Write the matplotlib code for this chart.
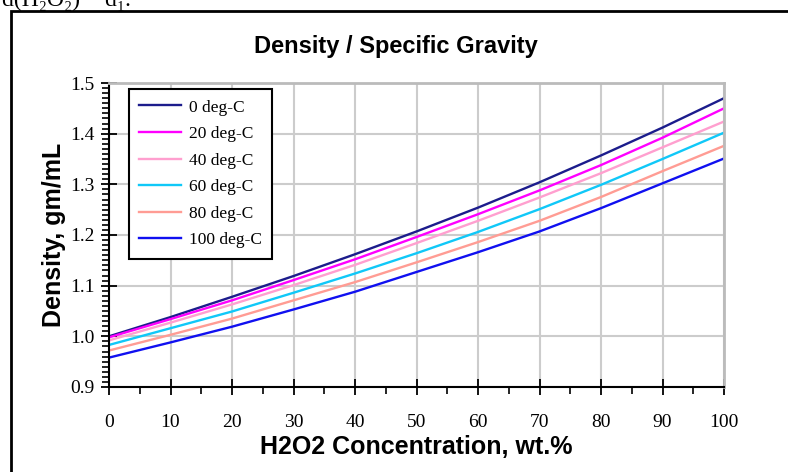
import matplotlib.pyplot as plt
import matplotlib.patches as patches
from matplotlib.ticker import MultipleLocator

# concentration, wt.%
conc = [0, 10, 20, 30, 40, 50, 60, 70, 80, 90, 100]

# density (gm/mL), one list per temperature
d_0 = [1.000, 1.038, 1.078, 1.119, 1.162, 1.207, 1.254, 1.304, 1.357, 1.412, 1.470]
d_20 = [0.998, 1.034, 1.071, 1.111, 1.152, 1.196, 1.241, 1.288, 1.338, 1.392, 1.450]
d_40 = [0.992, 1.027, 1.063, 1.101, 1.141, 1.184, 1.228, 1.274, 1.322, 1.373, 1.424]
d_60 = [0.983, 1.016, 1.049, 1.086, 1.124, 1.164, 1.206, 1.251, 1.299, 1.350, 1.402]
d_80 = [0.972, 1.003, 1.035, 1.071, 1.107, 1.146, 1.186, 1.228, 1.275, 1.326, 1.376]
d_100 = [0.958, 0.988, 1.019, 1.053, 1.088, 1.127, 1.166, 1.207, 1.253, 1.302, 1.351]

labels = ['0 deg-C', '20 deg-C', '40 deg-C', '60 deg-C', '80 deg-C', '100 deg-C']
colors = ['#1c1c8c', '#ff00ff', '#ff9fcf', '#10c8f8', '#ff9c94', '#1010f0']
series = [d_0, d_20, d_40, d_60, d_80, d_100]

W, H = 788, 472
fig = plt.figure(figsize=(W / 100, H / 100), dpi=100)

# outer frame (runs off right and bottom edge)
fig.patches.append(patches.Rectangle((11 / W, -0.05), 1.1, 1 - 11 / H + 0.05,
                                     transform=fig.transFigure, fill=False,
                                     edgecolor='black', linewidth=2))
# text of the page above, cut off as in the source
fig.text(2 / W, 1 - 6 / H, 'd(H\u2082O\u2082) = d\u2081.', fontsize=17,
         family=['Liberation Serif', 'DejaVu Serif'], va='baseline', ha='left')

ax = fig.add_axes([109 / W, 1 - 387 / H, (724 - 109) / W, (387 - 83) / H])

for vals, lab, col in zip(series, labels, colors):
    ax.plot(conc, vals, color=col, lw=1.7, label=lab)

ax.set_xlim(0, 100)
ax.set_ylim(0.9, 1.5)
ax.xaxis.set_major_locator(MultipleLocator(10))
ax.xaxis.set_minor_locator(MultipleLocator(5))
ax.yaxis.set_major_locator(MultipleLocator(0.1))
ax.yaxis.set_minor_locator(MultipleLocator(0.01))
ax.yaxis.set_major_formatter(plt.FuncFormatter(lambda v, p: f'{v:.1f}'))

ax.grid(True, which='major', color='#cccccc', lw=1.5)
ax.set_axisbelow(True)
for s in ['top', 'right']:
    ax.spines[s].set_color('#bbbbbb')
    ax.spines[s].set_linewidth(2)
for s in ['left', 'bottom']:
    ax.spines[s].set_color('black')
    ax.spines[s].set_linewidth(1.5)

ax.tick_params(which='major', direction='inout', length=11, width=1.3)
ax.tick_params(which='minor', direction='out', length=5, width=1.2)
for t in ax.get_xticklabels() + ax.get_yticklabels():
    t.set_fontfamily('Liberation Serif')
    t.set_fontsize(14)
ax.tick_params(axis='x', pad=14)
ax.tick_params(axis='y', pad=5)

fig.text(396 / W, 1 - 46 / H, 'Density / Specific Gravity', ha='center', va='center',
         fontsize=17, fontweight='bold', family='Liberation Sans')
ax.set_xlabel('H2O2 Concentration, wt.%', fontsize=18, fontweight='bold',
              family='Liberation Sans', labelpad=3)
ax.set_ylabel('Density, gm/mL', fontsize=18, fontweight='bold',
              family='Liberation Sans', labelpad=3)

leg = ax.legend(loc='upper left', bbox_to_anchor=((129 - 109) / (724 - 109), 1 - (89 - 83) / (387 - 83)),
                frameon=True, fancybox=False, shadow=False, borderaxespad=0,
                prop={'family': 'Liberation Serif', 'size': 12.5},
                handlelength=2.4, handletextpad=0.45, labelspacing=0.6,
                borderpad=0.6)
leg.get_frame().set_edgecolor('black')
leg.get_frame().set_linewidth(1.5)
leg.get_frame().set_alpha(1)

fig.savefig('out.png', dpi=100)
